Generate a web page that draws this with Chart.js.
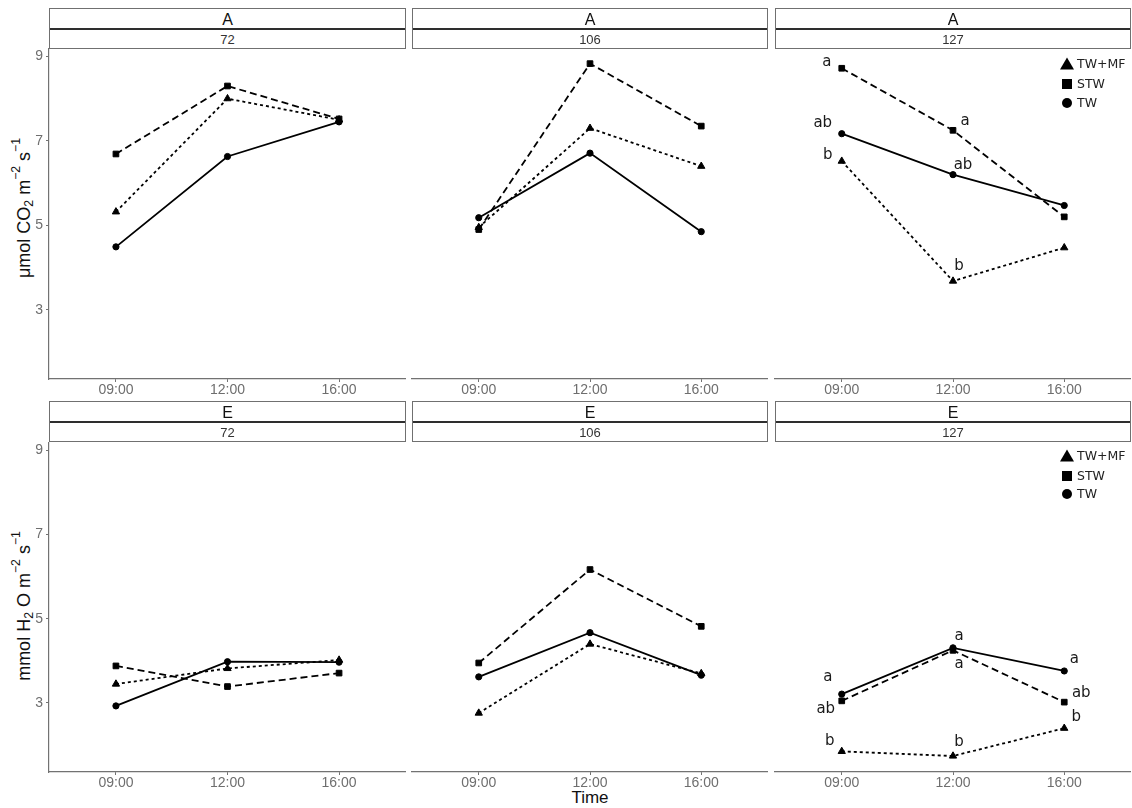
<!DOCTYPE html>
<html>
<head>
<meta charset="utf-8">
<script src="https://cdn.jsdelivr.net/npm/chart.js@4.4.1/dist/chart.umd.min.js"></script>
<style>
  html, body { margin: 0; padding: 0; background: #fff; }
  #fig { position: relative; width: 1132px; height: 808px; overflow: hidden;
         font-family: "Liberation Sans", Arial, sans-serif; background: #fff; }
  .strip { position: absolute; box-sizing: border-box; height: 41px;
           border: 1px solid #707070; background: #fff; }
  .strip .lab1 { position: absolute; left: 0; right: 0; top: 0; height: 19px;
                 line-height: 21px; text-align: center; font-size: 16px; color: #111; }
  .strip .div { position: absolute; left: 0; right: 0; top: 19px; height: 2px; background: #2e2e2e; }
  .strip .lab2 { position: absolute; left: 0; right: 0; top: 21px; height: 18px;
                 line-height: 19px; text-align: center; font-size: 13px; color: #333; }
  canvas { position: absolute; }
  .ytitle { position: absolute; transform: translate(-50%, -50%) rotate(-90deg);
            white-space: nowrap; font-size: 18px; color: #111; }
  .ytitle sub, .ytitle sup { font-size: 0.68em; line-height: 0; }
  .ytitle sub { vertical-align: -0.3em; }
  .ytitle sup { vertical-align: 0.75em; }
  .xtitle { position: absolute; transform: translate(-50%, -50%); font-size: 17px; color: #111; }
</style>
</head>
<body>
<div id="fig">
  <div class="ytitle" style="left:24px; top:208px;">μmol CO<sub>2</sub> m<sup>−2</sup> s<sup>−1</sup></div>
  <div class="ytitle" style="left:24px; top:606px;">mmol H<sub>2</sub> O m<sup>−2</sup> s<sup>−1</sup></div>
  <div class="xtitle" style="left:590px; top:798px;">Time</div>
</div>
<script>
// ---- data -------------------------------------------------------------
const times  = ['09:00', '12:00', '16:00'];
const groups = ['TW+MF', 'STW', 'TW'];
const days   = ['72', '106', '127'];
const variables = ['A', 'E'];
const yTickValues = [3, 5, 7, 9];

// Net assimilation A (µmol CO2 m-2 s-1): one row per day (72, 106, 127), one value per time
const aTWMF = [[5.32, 8.00, 7.50], [4.95, 7.30, 6.40], [6.52, 3.68, 4.47]];
const aSTW  = [[6.69, 8.30, 7.52], [4.90, 8.83, 7.35], [8.72, 7.25, 5.20]];
const aTW   = [[4.49, 6.63, 7.45], [5.18, 6.71, 4.85], [7.17, 6.20, 5.47]];

// Transpiration E (mmol H2O m-2 s-1)
const eTWMF = [[3.45, 3.82, 4.02], [2.76, 4.40, 3.70], [1.85, 1.74, 2.40]];
const eSTW  = [[3.88, 3.39, 3.71], [3.95, 6.17, 4.82], [3.05, 4.25, 3.02]];
const eTW   = [[2.93, 3.98, 3.97], [3.62, 4.67, 3.66], [3.21, 4.31, 3.76]];

// Significance letters on day 127 (groups order: TW+MF, STW, TW)
const lettersA127 = [['b', 'b', ''], ['a', 'a', ''], ['ab', 'ab', '']];
const lettersE127 = [['b', 'b', 'b'], ['ab', 'a', 'ab'], ['a', 'a', 'a']];

// ---- styling ----------------------------------------------------------
const LEFT = 49, BOTTOM = 24;
const cols = [{ x: 49, w: 357 }, { x: 412, w: 356 }, { x: 775, w: 356 }];
const rows = [
  { top: 48,  h: 331, stripTop: 8,   legendY: [16, 36, 55] },
  { top: 442, h: 330, stripTop: 401, legendY: [14, 34, 52] }
];
const seriesStyle = [
  { dash: [3, 3], point: 'triangle', radius: 4.2 },
  { dash: [7, 4], point: 'rect',     radius: 4.0 },
  { dash: [],     point: 'circle',   radius: 3.1 }
];
// pixel offsets of each letter from its point
const letterOffsetsA = [
  [[-14, -6], [6, -15], null],
  [[-15, -6], [12, -9], null],
  [[-19, -11], [10, -10], null]
];
const letterOffsetsE = [
  [[-12, -10], [6, -14], [12, -11]],
  [[-16, 8], [6, 14], [17, -9]],
  [[-14, -17], [6, -12], [10, -12]]
];
const axisGrey = '#727272';
const tickFont = { family: '"Liberation Sans", Arial, sans-serif', size: 14 };

// ---- plugins ----------------------------------------------------------
const letterMarks = {
  id: 'letterMarks',
  afterDatasetsDraw(chart, args, opts) {
    if (!opts || !opts.letters) return;
    const ctx = chart.ctx;
    ctx.save();
    ctx.font = '15px "DejaVu Sans", sans-serif';
    ctx.fillStyle = '#1a1a1a';
    ctx.textAlign = 'center';
    ctx.textBaseline = 'middle';
    opts.letters.forEach((row, gi) => {
      const meta = chart.getDatasetMeta(gi);
      row.forEach((txt, ti) => {
        const off = opts.offsets[gi][ti];
        if (!txt || !off) return;
        const el = meta.data[ti];
        ctx.fillText(txt, el.x + off[0], el.y + off[1]);
      });
    });
    ctx.restore();
  }
};

const shapeLegend = {
  id: 'shapeLegend',
  afterDraw(chart, args, opts) {
    if (!opts || !opts.show) return;
    const ctx = chart.ctx;
    const a = chart.chartArea;
    const mx = a.right - 64;
    ctx.save();
    ctx.fillStyle = '#000';
    chart.data.datasets.forEach((ds, i) => {
      const y = a.top + opts.rowsY[i];
      ctx.beginPath();
      if (ds.pointStyle === 'triangle') {
        ctx.moveTo(mx, y - 6.5); ctx.lineTo(mx + 7, y + 5.5); ctx.lineTo(mx - 7, y + 5.5); ctx.closePath();
      } else if (ds.pointStyle === 'rect') {
        ctx.rect(mx - 5, y - 5, 10, 10);
      } else {
        ctx.arc(mx, y, 5, 0, Math.PI * 2);
      }
      ctx.fill();
    });
    ctx.font = '12.5px "DejaVu Sans", sans-serif';
    ctx.fillStyle = '#222';
    ctx.textAlign = 'left';
    ctx.textBaseline = 'middle';
    chart.data.datasets.forEach((ds, i) => {
      ctx.fillText(ds.label, mx + 10, a.top + opts.rowsY[i] + 1);
    });
    ctx.restore();
  }
};

// ---- panels -----------------------------------------------------------
const fig = document.getElementById('fig');
const seriesByVar = { A: [aTWMF, aSTW, aTW], E: [eTWMF, eSTW, eTW] };

function addStrip(left, top, width, v, d) {
  const s = document.createElement('div');
  s.className = 'strip';
  s.style.left = left + 'px';
  s.style.top = top + 'px';
  s.style.width = width + 'px';
  s.innerHTML = '<div class="lab1">' + v + '</div><div class="div"></div><div class="lab2">' + d + '</div>';
  fig.appendChild(s);
}

function makePanel(ri, ci) {
  const row = rows[ri], col = cols[ci];
  const v = variables[ri];
  addStrip(col.x, row.stripTop, col.w, v, days[ci]);

  const W = col.w + LEFT, H = row.h + BOTTOM;
  const canvas = document.createElement('canvas');
  canvas.width = W; canvas.height = H;
  canvas.style.left = (col.x - LEFT) + 'px';
  canvas.style.top = row.top + 'px';
  canvas.style.width = W + 'px';
  canvas.style.height = H + 'px';
  fig.appendChild(canvas);

  const series = seriesByVar[v];
  const datasets = groups.map((g, gi) => ({
    label: g,
    data: times.map((t, ti) => ({ x: ti, y: series[gi][ci][ti] })),
    borderColor: '#000',
    borderWidth: 1.8,
    borderDash: seriesStyle[gi].dash,
    pointStyle: seriesStyle[gi].point,
    pointRadius: seriesStyle[gi].radius,
    pointBackgroundColor: '#000',
    pointBorderColor: '#000',
    pointBorderWidth: 1,
    fill: false,
    tension: 0,
    clip: false
  }));

  const last = ci === 2;
  const showY = ci === 0;
  new Chart(canvas, {
    type: 'line',
    data: { datasets },
    options: {
      responsive: false,
      animation: false,
      devicePixelRatio: 1,
      events: [],
      layout: { padding: 0, autoPadding: false },
      plugins: {
        legend: { display: false },
        tooltip: { enabled: false },
        letterMarks: last ? (ri === 0
          ? { letters: lettersA127, offsets: letterOffsetsA }
          : { letters: lettersE127, offsets: letterOffsetsE }) : {},
        shapeLegend: { show: last, rowsY: row.legendY }
      },
      scales: {
        x: {
          type: 'linear', min: -0.6, max: 2.6,
          afterBuildTicks: s => { s.ticks = times.map((t, i) => ({ value: i })); },
          afterFit: s => { s.height = BOTTOM; s.paddingLeft = 0; s.paddingRight = 0; },
          ticks: { callback: val => times[val], color: '#6e6e6e', font: tickFont,
                   padding: 0, maxRotation: 0, autoSkip: false },
          grid: { display: true, drawOnChartArea: false, drawTicks: true, tickLength: 3, color: axisGrey },
          border: { display: true, color: axisGrey, width: 1.2 }
        },
        y: {
          type: 'linear', min: 1.36, max: 9.2,
          afterBuildTicks: s => { s.ticks = yTickValues.map(t => ({ value: t })); },
          afterFit: s => { s.width = LEFT; s.paddingTop = 0; s.paddingBottom = 0; },
          ticks: { display: showY, color: '#6e6e6e', font: tickFont, padding: 3 },
          grid: { display: showY, drawOnChartArea: false, drawTicks: true, tickLength: 3, color: axisGrey },
          border: { display: showY, color: axisGrey, width: 1.2 }
        }
      }
    },
    plugins: [letterMarks, shapeLegend]
  });
}

for (let ri = 0; ri < rows.length; ri++) {
  for (let ci = 0; ci < cols.length; ci++) makePanel(ri, ci);
}
</script>
</body>
</html>
